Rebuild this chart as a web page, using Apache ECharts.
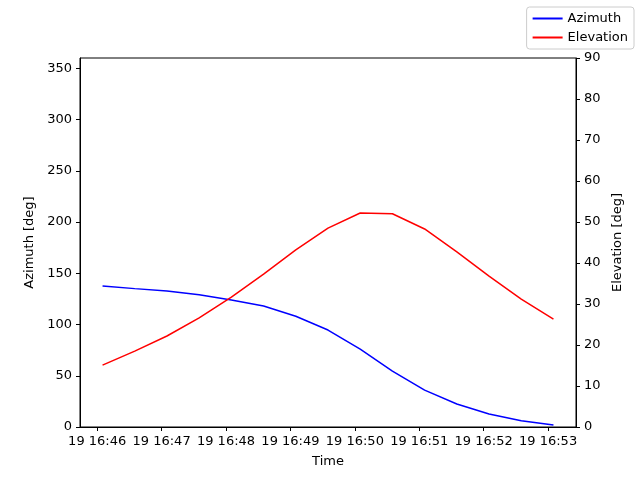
<!DOCTYPE html><html><head><meta charset="utf-8">
<script src="https://cdn.jsdelivr.net/npm/echarts@6/dist/echarts.min.js"></script>
</head><body style="margin:0"><div id="c" style="width:640px;height:480px"></div><script>
const times=['16:46:05','16:46:35','16:47:05','16:47:35','16:48:05','16:48:35','16:49:05','16:49:35','16:50:05','16:50:35','16:51:05','16:51:35','16:52:05','16:52:35','16:53:05'];
const azimuth=[137.6,135,132.7,129,124,118,108,94.6,76,54.6,36,22.4,12.7,6,2];
const elevation=[15.1,18.5,22.2,26.6,31.7,37.3,43.2,48.5,52.2,52,48.3,42.7,36.8,31.2,26.3];
const tickLabels=['19 16:46','19 16:47','19 16:48','19 16:49','19 16:50','19 16:51','19 16:52','19 16:53'];
const toMin=t=>{const p=t.split(':').map(Number);return (p[0]-16)*60+p[1]-46+p[2]/60;};
const xs=times.map(toMin);
const font={fontFamily:'DejaVu Sans',fontSize:13,color:'#000'};
const ax={axisLine:{show:true,onZero:false,lineStyle:{color:'#000'}},axisTick:{show:true,length:4,lineStyle:{color:'#000'}},splitLine:{show:false},axisLabel:Object.assign({},font),nameTextStyle:Object.assign({},font)};
echarts.init(document.getElementById('c')).setOption({animation:false,
grid:{left:80,right:64,top:58,bottom:53,show:true,borderColor:'#000',borderWidth:1},
legend:{orient:'vertical',right:6,top:7,itemWidth:30,itemHeight:2,icon:'rect',textStyle:Object.assign({},font),borderColor:'#ccc',borderWidth:1,borderRadius:3,padding:[5,6],itemGap:6,data:['Azimuth','Elevation']},
xAxis:Object.assign({},ax,{type:'value',min:-16/60,max:7+26/60,name:'Time',nameLocation:'middle',nameGap:28,
 axisTick:{show:true,length:4,customValues:[0,1,2,3,4,5,6,7],lineStyle:{color:'#000'}},
 axisLabel:Object.assign({},font,{customValues:[0,1,2,3,4,5,6,7],formatter:v=>tickLabels[Math.round(v)]})}),
yAxis:[Object.assign({},ax,{type:'value',min:0,max:360,interval:50,name:'Azimuth [deg]',nameLocation:'middle',nameGap:42,axisLabel:Object.assign({},font,{showMaxLabel:false})}),
 Object.assign({},ax,{type:'value',min:0,max:90,interval:10,position:'right',name:'Elevation [deg]',nameLocation:'middle',nameGap:32})],
series:[{name:'Azimuth',type:'line',symbol:'none',color:'#0000ff',lineStyle:{width:1.5},data:xs.map((x,i)=>[x,azimuth[i]])},
{name:'Elevation',type:'line',symbol:'none',yAxisIndex:1,color:'#ff0000',lineStyle:{width:1.5},data:xs.map((x,i)=>[x,elevation[i]])}]});
</script></body></html>
